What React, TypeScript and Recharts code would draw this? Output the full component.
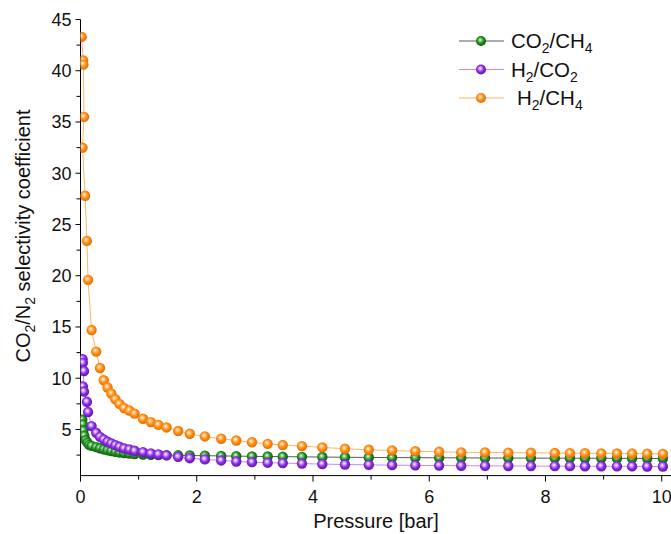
import React from 'react';
import { LineChart, Line, XAxis, YAxis } from 'recharts';

// pressure points shared by all three series above ~0.2 bar
const sharedPressure = [
  0.19, 0.27, 0.335, 0.4, 0.465, 0.53, 0.6, 0.67, 0.75, 0.84, 0.93, 1.075, 1.21, 1.34,
  1.48, 1.68, 1.88, 2.14, 2.42, 2.68, 2.95, 3.22, 3.48, 3.81, 4.16, 4.55, 4.96, 5.36,
  5.76, 6.17, 6.55, 6.96, 7.36, 7.75, 8.16, 8.42, 8.68, 8.96, 9.23, 9.49, 9.75, 10.02,
];

// low pressure points (differ per series)
const co2ch4LowPressure = [0.03, 0.04, 0.05, 0.065, 0.09, 0.12, 0.15];
const co2ch4LowValues = [5.95, 5.5, 4.9, 4.4, 3.95, 3.7, 3.5];
const co2ch4Values = [
  3.4, 3.28, 3.17, 3.06, 2.98, 2.9, 2.82, 2.76, 2.7, 2.64, 2.6, 2.56, 2.53, 2.51,
  2.5, 2.48, 2.46, 2.44, 2.42, 2.4, 2.38, 2.36, 2.35, 2.33, 2.31, 2.29, 2.27, 2.26,
  2.25, 2.24, 2.23, 2.22, 2.21, 2.21, 2.2, 2.2, 2.19, 2.19, 2.18, 2.18, 2.17, 2.17,
];

const h2co2LowPressure = [0.035, 0.04, 0.06, 0.04, 0.06, 0.11, 0.13];
const h2co2LowValues = [11.85, 11.5, 10.7, 9.2, 8.7, 7.7, 6.7];
const h2co2Values = [
  5.33, 4.67, 4.28, 4.03, 3.8, 3.64, 3.47, 3.31, 3.15, 3.05, 2.92, 2.79, 2.66, 2.57,
  2.47, 2.33, 2.2, 2.08, 1.98, 1.88, 1.81, 1.76, 1.72, 1.67, 1.62, 1.58, 1.55, 1.52,
  1.5, 1.48, 1.46, 1.45, 1.44, 1.43, 1.42, 1.42, 1.41, 1.41, 1.4, 1.4, 1.39, 1.39,
];

const h2ch4LowPressure = [0.02, 0.045, 0.05, 0.06, 0.035, 0.08, 0.11, 0.13];
const h2ch4LowValues = [43.3, 41.0, 40.6, 35.5, 32.5, 27.8, 23.4, 19.6];
const h2ch4Values = [
  14.7, 12.6, 11.0, 9.8, 9.1, 8.5, 7.95, 7.5, 7.1, 6.85, 6.55, 6.05, 5.72, 5.45,
  5.2, 4.85, 4.58, 4.32, 4.1, 3.92, 3.75, 3.6, 3.48, 3.38, 3.25, 3.12, 3.02, 2.95,
  2.88, 2.82, 2.77, 2.76, 2.74, 2.73, 2.7, 2.69, 2.68, 2.67, 2.66, 2.65, 2.64, 2.62,
];

const xTicks = [0, 1, 2, 3, 4, 5, 6, 7, 8, 9, 10];
const yTicks = [2.5, 5, 7.5, 10, 12.5, 15, 17.5, 20, 22.5, 25, 27.5, 30, 32.5, 35, 37.5, 40, 42.5, 45];

const FONT = '"Liberation Sans", Arial, sans-serif';

const toPoints = (lowP: number[], lowV: number[], vals: number[]) => [
  ...lowP.map((p, i) => ({ p, v: lowV[i] })),
  ...sharedPressure.map((p, i) => ({ p, v: vals[i] })),
];

const series = [
  {
    key: 'co2ch4',
    sub: ['CO', '2', '/CH', '4'],
    lead: 0,
    data: toPoints(co2ch4LowPressure, co2ch4LowValues, co2ch4Values),
    line: '#5a5a5a',
    light: '#7fd07f',
    mid: '#1f8a1f',
    dark: '#0b4f0b',
  },
  {
    key: 'h2co2',
    sub: ['H', '2', '/CO', '2'],
    lead: 0,
    data: toPoints(h2co2LowPressure, h2co2LowValues, h2co2Values),
    line: '#c08cff',
    light: '#d4a8ff',
    mid: '#8a2be2',
    dark: '#5a10a8',
  },
  {
    key: 'h2ch4',
    sub: ['H', '2', '/CH', '4'],
    lead: 6,
    data: toPoints(h2ch4LowPressure, h2ch4LowValues, h2ch4Values),
    line: '#ffb464',
    light: '#ffc880',
    mid: '#ff8a10',
    dark: '#e06800',
  },
];

const Gradients = () => (
  <defs>
    {series.map((s) => (
      <radialGradient key={s.key} id={`pt-${s.key}`} cx="0.45" cy="0.45" r="0.6" fx="0.42" fy="0.38">
        <stop offset="0%" stopColor="#ffffff" />
        <stop offset="22%" stopColor={s.light} />
        <stop offset="55%" stopColor={s.mid} />
        <stop offset="100%" stopColor={s.dark} />
      </radialGradient>
    ))}
  </defs>
);

const YTick = (props: any) => {
  const { x, y, payload } = props;
  const major = payload.value % 5 === 0;
  return (
    <g>
      <line x1={x} x2={x - (major ? 5 : 4)} y1={y} y2={y} stroke="#000" />
      {major && (
        <text x={x - 9} y={y} dy="0.35em" textAnchor="end" fontSize={18} fontFamily={FONT} fill="#111">
          {payload.value}
        </text>
      )}
    </g>
  );
};

const XTick = (props: any) => {
  const { x, y, payload } = props;
  const major = payload.value % 2 === 0;
  return (
    <g>
      <line x1={x} x2={x} y1={y} y2={y + (major ? 6 : 4)} stroke="#000" />
      {major && (
        <text x={x} y={y + 27} textAnchor="middle" fontSize={18} fontFamily={FONT} fill="#111">
          {payload.value}
        </text>
      )}
    </g>
  );
};

const SubText = ({ parts, x, y, size }: { parts: string[]; x: number; y: number; size: number }) => (
  <text x={x} y={y} dy="0.35em" fontSize={size} fontFamily={FONT} fill="#111">
    <tspan>{parts[0]}</tspan>
    <tspan dy={5} fontSize={size * 0.68}>{parts[1]}</tspan>
    <tspan dy={-5}>{parts[2]}</tspan>
    <tspan dy={5} fontSize={size * 0.68}>{parts[3]}</tspan>
  </text>
);

// legend drawn in the chart svg so it reserves no space
const LegendBox = () => (
  <g>
    {series.map((s, i) => {
      const y = 41 + i * 28.5;
      return (
        <g key={s.key}>
          <line x1={459} x2={504} y1={y} y2={y} stroke={s.line} strokeWidth={1.2} />
          <circle cx={481} cy={y} r={5} fill={`url(#pt-${s.key})`} />
          <SubText parts={s.sub} x={511 + s.lead} y={y} size={20.5} />
        </g>
      );
    })}
  </g>
);

const YTitle = () => (
  <text
    x={23}
    y={236}
    transform="rotate(-90, 23, 236)"
    textAnchor="middle"
    dy="0.35em"
    fontSize={20}
    fontFamily={FONT}
    fill="#111"
  >
    CO<tspan dy={5} fontSize={14}>2</tspan>
    <tspan dy={-5}>/N</tspan>
    <tspan dy={5} fontSize={14}>2</tspan>
    <tspan dy={-5}> selectivity coefficient</tspan>
  </text>
);

const XTitle = () => (
  <text x={376} y={528} textAnchor="middle" fontSize={20} fontFamily={FONT} fill="#111">
    Pressure [bar]
  </text>
);

export default function App() {
  return (
    <div
      style={{
        position: 'absolute',
        left: 0,
        top: 0,
        width: 671,
        height: 534,
        overflow: 'hidden',
        background: '#fff',
      }}
    >
      <LineChart width={700} height={534} margin={{ top: 19.5, right: 9.2, left: 0.5, bottom: 0 }}>
        <Gradients />
        <XAxis
          type="number"
          dataKey="p"
          domain={[0, 10.5]}
          ticks={xTicks}
          interval={0}
          tick={<XTick />}
          tickLine={false}
          tickSize={0}
          tickMargin={0}
          height={58.4}
          axisLine={{ stroke: '#000' }}
          allowDataOverflow
          label={{ content: () => <XTitle /> }}
        />
        <YAxis
          type="number"
          domain={[0.5, 45]}
          ticks={yTicks}
          interval={0}
          tick={<YTick />}
          tickLine={false}
          tickSize={0}
          tickMargin={0}
          width={80}
          axisLine={{ stroke: '#000' }}
          allowDataOverflow
          label={{ content: () => <YTitle /> }}
        />
        {series.map((s) => (
          <Line
            key={s.key}
            data={s.data}
            dataKey="v"
            type="linear"
            stroke={s.line}
            strokeWidth={1}
            isAnimationActive={false}
            activeDot={false}
            dot={(props: any) => (
              <circle key={`${s.key}-${props.index}`} cx={props.cx} cy={props.cy} r={5.2} fill={`url(#pt-${s.key})`} />
            )}
          />
        ))}
        <LegendBox />
      </LineChart>
    </div>
  );
}
